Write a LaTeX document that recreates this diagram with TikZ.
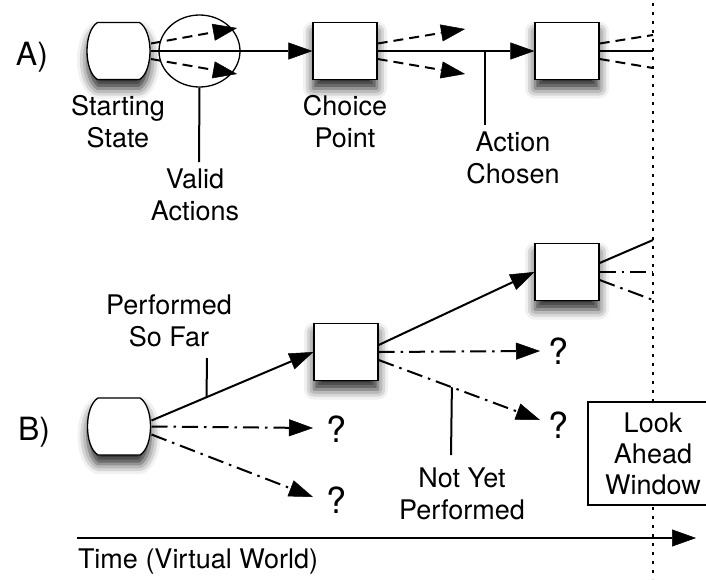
\documentclass[tikz,border=0pt]{standalone}
\usepackage{fontspec}
\setmainfont{TeX Gyre Heros}
\usetikzlibrary{arrows.meta,calc,shapes.geometric,shadows.blur}

% rounded "terminal" shape around an invisible node
\newcommand{\termshape}[1]{%
  \draw[boxline, shade, fill=white]
    ($(#1.center)+(-21,-28.5)$) -- ($(#1.center)+(21,-28.5)$)
    .. controls ($(#1.center)+(35,-20)$) and ($(#1.center)+(35,20)$) .. ($(#1.center)+(21,28.5)$)
    -- ($(#1.center)+(-21,28.5)$)
    .. controls ($(#1.center)+(-35,20)$) and ($(#1.center)+(-35,-20)$) .. cycle;}

\begin{document}
\begin{tikzpicture}[x=1pt,y=-1pt,
  line width=2pt,
  boxline/.style={line width=1.3pt},
  tip/.style={-{Triangle[length=24pt,width=17pt,fill=black,line width=0.5pt]}},
  dashline/.style={dash pattern=on 10pt off 6pt},
  dashdot/.style={dash pattern=on 16pt off 6pt on 2.5pt off 6pt},
  txt/.style={font=\fontsize{27}{32}\selectfont, align=center, inner sep=0pt},
  big/.style={font=\fontsize{32}{36}\selectfont, inner sep=0pt, anchor=base west},
  qmark/.style={font=\fontsize{36}{40}\selectfont, inner sep=0pt, anchor=base},
  shade/.style={blur shadow={shadow xshift=0pt, shadow yshift=-9pt, shadow blur radius=10pt, shadow opacity=85}},
  statebox/.style={draw, boxline, fill=white, minimum width=64pt, minimum height=57pt, inner sep=0pt, shade},
  termnode/.style={minimum width=63pt, minimum height=57pt, inner sep=0pt},
]
\useasboundingbox (0,0) rectangle (706,579);

% time limit of the look-ahead
\coordinate (dtop) at (653,3);
\coordinate (dbot) at (653,579);
\draw[dash pattern=on 2.5pt off 6.5pt, line width=2pt] (dtop) -- (dbot);

% ---------------- A) ----------------
\node[big] (lA) at (15,65) {A)};
\node[termnode] (sA) at (118.5,51) {};
\termshape{sA}
\node[statebox] (cA) at (345,51) {};
\node[statebox] (dA) at (567,51) {};
\node[draw, boxline, ellipse, minimum width=81pt, minimum height=72pt, inner sep=0pt] (va) at (199.5,51) {};

\coordinate (vaU) at (237,28);
\coordinate (vaL) at (237,74);
\draw[tip] (sA.east) -- (cA.west);
\draw[tip, dashline] ([yshift=7.5pt]sA.east) -- (vaU);
\draw[tip, dashline] ([yshift=-8pt]sA.east) -- (vaL);

\coordinate (caU) at (465,29);
\coordinate (caL) at (465,74);
\draw[tip] (cA.east) -- (dA.west);
\draw[tip, dashline] ([yshift=7.5pt]cA.east) -- (caU);
\draw[tip, dashline] ([yshift=-8pt]cA.east) -- (caL);

\coordinate (daU) at (653,35);
\coordinate (daM) at (653,51);
\coordinate (daL) at (653,68);
\draw (dA.east) -- (daM);
\draw[dashline] ([yshift=7.5pt]dA.east) -- (daU);
\draw[dashline] ([yshift=-8pt]dA.east) -- (daL);

\node[txt] (tsA) at (118,122) {Starting\\State};
\node[txt] (tcA) at (345,122) {Choice\\Point};
\node[txt] (tva) at (195,195) {Valid\\Actions};
\node[txt] (tac) at (513,158) {Action\\Chosen};

\coordinate (vaE) at (199,162);
\draw (va.south) -- (vaE);
\coordinate (acJ) at (485,51);
\coordinate (acE) at (485,125);
\draw (acJ) -- (acE);

% ---------------- B) ----------------
\node[big] (lB) at (17,440) {B)};
\node[termnode] (sB) at (119,426.5) {};
\termshape{sB}
\node[statebox] (cB) at (346,352) {};
\node[statebox] (dB) at (567,272) {};

\node[qmark] (q1) at (337,442) {?};
\node[qmark] (q2) at (337,513) {?};
\node[qmark] (q3) at (558,364) {?};
\node[qmark] (q4) at (558,438) {?};

\coordinate (q1t) at (313,428);
\coordinate (q2t) at (313,497);
\coordinate (q3t) at (540,351);
\coordinate (q4t) at (540,420);

\coordinate (sBu) at ([yshift=6pt]sB.east);
\draw[tip] (sBu) -- (cB.west);
\draw[tip, dashdot] (sB.east) -- (q1t);
\draw[tip, dashdot] ([yshift=-8pt]sB.east) -- (q2t);

\coordinate (cBu) at ([yshift=7pt]cB.east);
\coordinate (cBl) at ([yshift=-8pt]cB.east);
\draw[tip] (cBu) -- (dB.west);
\draw[tip, dashdot] (cB.east) -- (q3t);
\draw[tip, dashdot] (cBl) -- (q4t);

\coordinate (dbU) at (653,240);
\coordinate (dbM) at (653,272);
\coordinate (dbL) at (653,300);
\draw ([yshift=9pt]dB.east) -- (dbU);
\draw[dashdot] (dB.east) -- (dbM);
\draw[dashdot] ([yshift=-8pt]dB.east) -- (dbL);

\node[txt] (tpf) at (169,321) {Performed\\So Far};
\coordinate (pfJ) at ($(sBu)!0.34!(cB.west)$);
\coordinate (pfE) at (207,358);
\draw (pfJ) -- (pfE);

\node[txt] (tny) at (462,494) {Not Yet\\Performed};
\coordinate (nyJ) at ($(cBl)!0.454!(q4t)$);
\coordinate (nyE) at (451,455);
\draw (nyE) -- (nyJ);

\node[draw, boxline, fill=white, minimum width=130pt, minimum height=103pt, inner sep=0pt,
      font=\fontsize{27}{31}\selectfont, align=center] (law) at (653,453.5) {Look\\Ahead\\Window};

% time axis
\coordinate (t0) at (77,538);
\coordinate (t1) at (696,538);
\draw[tip] (t0) -- (t1);
\node[txt, anchor=base west] (tt) at (77,568) {Time (Virtual World)};
\end{tikzpicture}
\end{document}
